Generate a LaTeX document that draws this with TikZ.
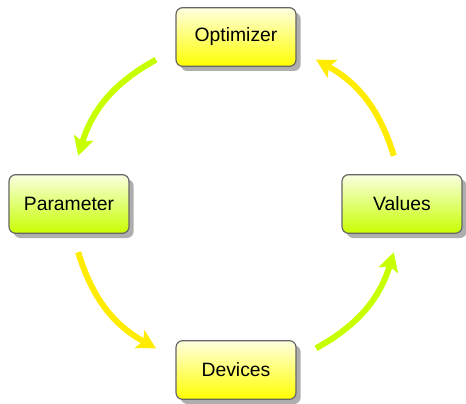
\documentclass[tikz,border=0pt]{standalone}
\usepackage{fontspec}
\setmainfont{Liberation Sans}
\usetikzlibrary{shadows,arrows.meta,scopes}
\definecolor{lime}{HTML}{C8FF00}
\definecolor{gold}{HTML}{FFEC00}

\begin{document}
\begin{tikzpicture}[x=0.75pt,y=0.75pt,
        box/.style={rectangle,rounded corners=5pt,draw=black!60,line width=0.9pt,
            minimum width=90pt,minimum height=44pt,font=\fontsize{14.5}{17}\selectfont,
            drop shadow={shadow xshift=3.5pt,shadow yshift=-3.5pt,fill=black!45,opacity=0.7}},
        ybox/.style={box,top color=yellow!12,bottom color=yellow},
        gbox/.style={box,top color=lime!12,bottom color=lime},
        flow/.style={line width=4.5pt,-{Stealth[length=14pt,width=15pt,inset=3pt]}}]
        \useasboundingbox (-236,-199) rectangle (230,204);
        \node[ybox] (opt) at (0,167) {Optimizer};
        \node[gbox] (par) at (-167,0) {Parameter};
        \node[gbox] (val) at (166,0) {Values};
        \node[ybox] (dev) at (0,-166) {Devices};
        % arc ends
        \coordinate (o1) at (119:165);
        \coordinate (p1) at (163:165);
        \coordinate (p2) at (197:165);
        \coordinate (d1) at (241:165);
        \coordinate (d2) at (299:165);
        \coordinate (v1) at (343:165);
        \coordinate (v2) at (17:165);
        \coordinate (o2) at (61:165);
        {[flow]
        \draw[lime] (o1) to[bend right=22] (p1);
        \draw[gold] (p2) to[bend right=22] (d1);
        \draw[lime] (d2) to[bend right=22] (v1);
        \draw[gold] (v2) to[bend right=22] (o2);
        }
    \end{tikzpicture}
\end{document}
